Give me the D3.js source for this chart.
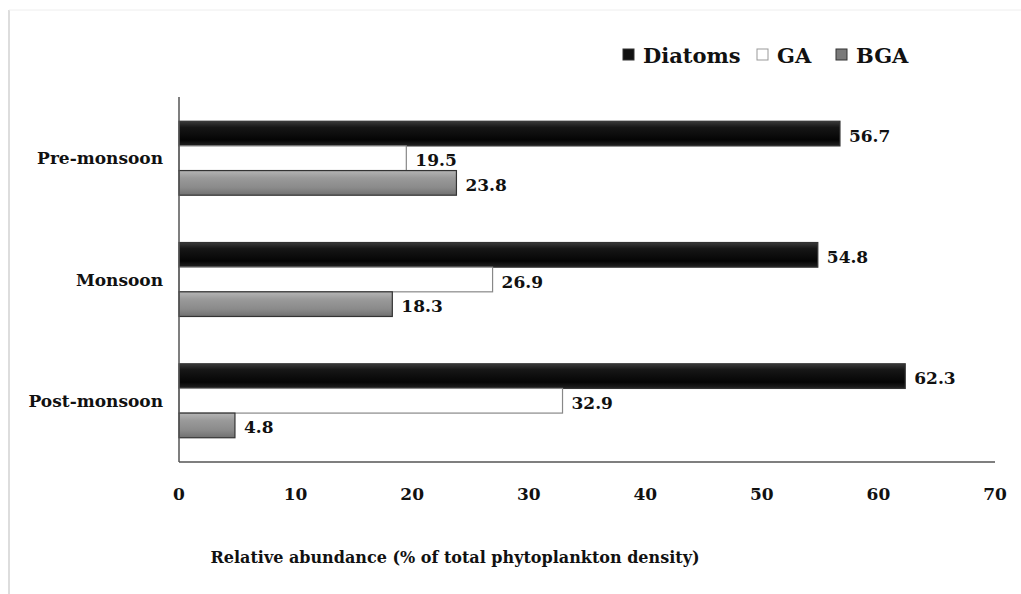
<!DOCTYPE html>
<html>
<head>
<meta charset="utf-8">
<script src="https://cdn.jsdelivr.net/npm/d3@7"></script>
<style>
  body { margin: 0; background: #fff; }
  text { font-family: "DejaVu Serif", "Liberation Serif", serif; font-weight: bold; fill: #111; }
</style>
</head>
<body>
<div id="chart"></div>
<script>
// data
const seasons = ["Pre-monsoon", "Monsoon", "Post-monsoon"];
const groups = ["Diatoms", "GA", "BGA"];
const diatoms = [56.7, 54.8, 62.3];
const ga = [19.5, 26.9, 32.9];
const bga = [23.8, 18.3, 4.8];
const xTicks = [0, 10, 20, 30, 40, 50, 60, 70];
const axisTitle = "Relative abundance (% of total phytoplankton density)";

const W = 1021, H = 594;
const margin = {top: 97, right: 26, bottom: 132, left: 179},
    width = W - margin.left - margin.right,
    height = H - margin.top - margin.bottom;

const svg = d3.select("#chart")
  .append("svg")
    .attr("width", W)
    .attr("height", H);

// faint frame of the original picture
svg.append("line").attr("x1", 9).attr("x2", 9).attr("y1", 10).attr("y2", H)
  .attr("stroke", "#ddd").attr("stroke-width", 2);
svg.append("line").attr("x1", 9).attr("x2", W).attr("y1", 10).attr("y2", 10)
  .attr("stroke", "#eee").attr("stroke-width", 1);

// bevel-like gradients
const defs = svg.append("defs");
function grad(id, stops) {
  const g = defs.append("linearGradient").attr("id", id)
    .attr("x1", 0).attr("x2", 0).attr("y1", 0).attr("y2", 1);
  stops.forEach(s => g.append("stop").attr("offset", s[0]).attr("stop-color", s[1]));
}
grad("gDia", [[0, "#3a3a3a"], [0.25, "#161616"], [0.75, "#050505"], [1, "#222"]]);
grad("gBga", [[0, "#b5b5b5"], [0.3, "#9a9a9a"], [0.7, "#8a8a8a"], [1, "#707070"]]);

const g = svg.append("g")
    .attr("transform", `translate(${margin.left},${margin.top})`);

const x = d3.scaleLinear().domain([0, 70]).range([0, width]);
const y = d3.scaleBand().domain(seasons).range([0, height]).paddingInner(0.39).paddingOuter(0.2);
const ySub = d3.scaleBand().domain(groups).range([0, y.bandwidth()]);

const rows = [];
seasons.forEach((s, i) => {
  rows.push({season: s, group: "Diatoms", value: diatoms[i]});
  rows.push({season: s, group: "GA", value: ga[i]});
  rows.push({season: s, group: "BGA", value: bga[i]});
});

const fills = {Diatoms: "url(#gDia)", GA: "#fff", BGA: "url(#gBga)"};
const strokes = {Diatoms: "#333", GA: "#888", BGA: "#333"};

g.selectAll("rect.bar")
  .data(rows)
  .join("rect")
    .attr("class", "bar")
    .attr("x", x(0))
    .attr("y", d => y(d.season) + ySub(d.group))
    .attr("width", d => x(d.value) - x(0))
    .attr("height", ySub.bandwidth())
    .attr("fill", d => fills[d.group])
    .attr("stroke", d => strokes[d.group])
    .attr("stroke-width", 1.2);

// value labels
g.selectAll("text.val")
  .data(rows)
  .join("text")
    .attr("class", "val")
    .attr("x", d => x(d.value) + 9)
    .attr("y", d => y(d.season) + ySub(d.group) + ySub.bandwidth() / 2 + 8)
    .style("font-size", "17px")
    .text(d => d.value.toFixed(1));

// axes lines
g.append("line").attr("x1", 0).attr("x2", 0).attr("y1", 0).attr("y2", height)
  .attr("stroke", "#555").attr("stroke-width", 1.5);
g.append("line").attr("x1", 0).attr("x2", width).attr("y1", height).attr("y2", height)
  .attr("stroke", "#555").attr("stroke-width", 1.5);

// x tick labels
g.selectAll("text.tick")
  .data(xTicks)
  .join("text")
    .attr("class", "tick")
    .attr("x", d => x(d))
    .attr("y", height + 38)
    .attr("text-anchor", "middle")
    .style("font-size", "17px")
    .text(d => d);

// category labels
g.selectAll("text.cat")
  .data(seasons)
  .join("text")
    .attr("class", "cat")
    .attr("x", -16)
    .attr("y", d => y(d) + y.bandwidth() / 2 + 6)
    .attr("text-anchor", "end")
    .style("font-size", "17px")
    .text(d => d);

// axis title
svg.append("text")
  .attr("x", 455)
  .attr("y", 563)
  .attr("text-anchor", "middle")
  .style("font-size", "16px")
  .text(axisTitle);

// legend
const legendX = [623, 757, 836];
const legFill = {Diatoms: "#111", GA: "#fff", BGA: "#7a7a7a"};
const leg = svg.append("g").attr("transform", "translate(0,49)");
groups.forEach((k, i) => {
  leg.append("rect")
    .attr("x", legendX[i]).attr("y", 0)
    .attr("width", 11).attr("height", 11)
    .attr("fill", legFill[k])
    .attr("stroke", k === "GA" ? "#999" : "#333");
  leg.append("text")
    .attr("x", legendX[i] + 20).attr("y", 14)
    .style("font-size", "21px")
    .text(k);
});
</script>
</body>
</html>
